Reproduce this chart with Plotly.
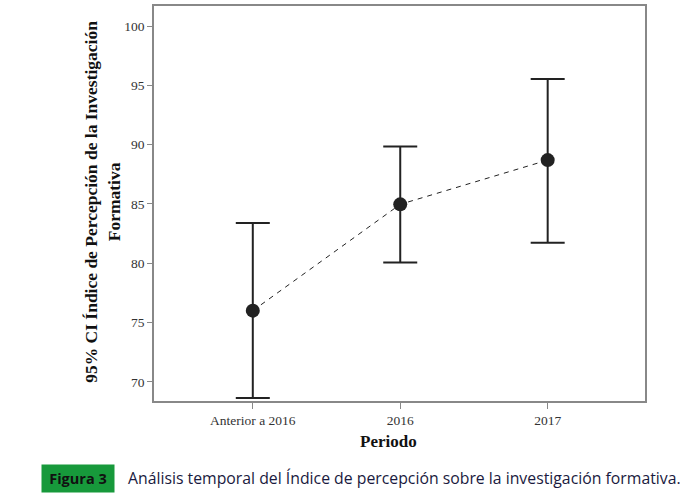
import plotly.graph_objects as go

# Datos (media e IC 95%)
periodos = ['Anterior a 2016', '2016', '2017']
medias = [76.0, 84.97, 88.7]
ic_sup = [83.4, 89.85, 95.55]
ic_inf = [68.63, 80.07, 81.72]
ticks_y = [70, 75, 80, 85, 90, 95, 100]

err_plus = [s - m for s, m in zip(ic_sup, medias)]
err_minus = [m - i for m, i in zip(medias, ic_inf)]

serif = 'Liberation Serif'

fig = go.Figure()

# linea punteada entre medias
fig.add_trace(go.Scatter(x=[0, 1, 2], y=medias, mode='lines',
                         line=dict(color='#222222', width=1, dash='5px,5px'),
                         showlegend=False, hoverinfo='skip'))

# puntos con barras de error
fig.add_trace(go.Scatter(x=[0, 1, 2], y=medias, mode='markers',
                         marker=dict(size=14, color='#222222'),
                         error_y=dict(type='data', symmetric=False, array=err_plus,
                                      arrayminus=err_minus, color='#222222',
                                      thickness=2, width=17),
                         showlegend=False))

fig.update_layout(
    width=697, height=495,
    margin=dict(l=154, r=52, t=4, b=94),
    plot_bgcolor='white', paper_bgcolor='white',
    font=dict(family=serif, color='#222222'),
    xaxis=dict(range=[-0.67, 2.66], tickmode='array', tickvals=[0, 1, 2], ticktext=periodos,
               showgrid=False, zeroline=False, showline=True, mirror=True,
               linecolor='#888888', linewidth=1.5, ticks='outside', ticklen=6,
               tickcolor='#888888', tickfont=dict(size=13.5, family=serif, color='#333333')),
    yaxis=dict(range=[68.38, 101.7], tickmode='array', tickvals=ticks_y,
               showgrid=False, zeroline=False, showline=True, mirror=True,
               linecolor='#888888', linewidth=1.5, ticks='outside', ticklen=5,
               tickcolor='#888888', tickfont=dict(size=13.5, family=serif, color='#333333')),
)

# titulos de ejes
fig.add_annotation(text='<b>95% CI Índice de Percepción de la Investigación<br>Formativa</b>',
                   xref='paper', yref='paper', x=-0.104, y=0.504, textangle=-90,
                   xanchor='center', yanchor='middle',
                   showarrow=False, font=dict(size=17.5, family=serif, color='#111111'))
fig.add_annotation(text='<b>Periodo</b>', xref='paper', yref='paper', x=0.4786, y=-0.103,
                   xanchor='center', yanchor='middle',
                   showarrow=False, font=dict(size=17, family=serif, color='#111111'))

# pie de figura
fig.add_annotation(text='<b>Figura 3</b>', xref='paper', yref='paper', x=-0.1538, y=-0.1965,
                   xanchor='center', yanchor='middle',
                   showarrow=False, bgcolor='#17993b', width=70, height=25,
                   font=dict(size=14.5, family='Open Sans', color='#111111'))
fig.add_annotation(text='Análisis temporal del Índice de percepción sobre la investigación formativa.',
                   xref='paper', yref='paper', x=(126 - 154) / 491, y=-0.196,
                   xanchor='left', yanchor='middle',
                   showarrow=False, font=dict(size=15.8, family='Open Sans', color='#1a1a40'))

# sin margen del body para que la figura empiece en (0, 0)
fig.write_html('out.html', config={'displayModeBar': False},
               post_script="document.body.style.margin='0';")
